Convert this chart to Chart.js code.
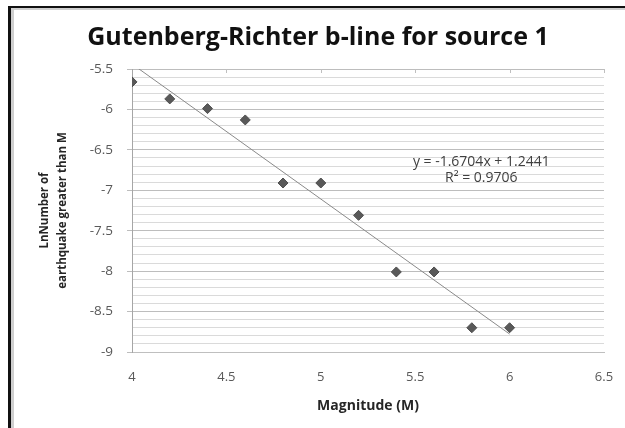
<!DOCTYPE html>
<html>
<head>
<meta charset="utf-8">
<script src="https://cdn.jsdelivr.net/npm/chart.js@4.4.1/dist/chart.umd.min.js"></script>
<style>
    html, body { margin: 0; padding: 0; background: #fff; }
    #frame {
        position: absolute; left: 8px; top: 6px; width: 640px; height: 440px;
        border-left: 3px solid #111; border-top: 2px solid #111;
        box-shadow: inset 3px 2px 0 #cfcfcf;
    }
    #wrap { position: absolute; left: 0; top: 0; width: 625px; height: 428px; }
</style>
</head>
<body>
<div id="frame"></div>
<div id="wrap"><canvas id="grChart" width="625" height="428"></canvas></div>
<script>
const magnitudes = [4, 4.2, 4.4, 4.6, 4.8, 5, 5.2, 5.4, 5.6, 5.8, 6];
const lnCounts = [-5.66, -5.87, -5.99, -6.13, -6.91, -6.91, -7.31, -8.01, -8.01, -8.70, -8.70];

const slope = -1.6704;
const intercept = 1.2441;
const rSquared = 0.9706;
const trendX = [4, 6];

const xTicks = [4, 4.5, 5, 5.5, 6, 6.5];
const yTicks = [-9, -8.5, -8, -7.5, -7, -6.5, -6, -5.5];
const yMinorStep = 0.1;

const isMajor = v => Math.abs(v * 2 - Math.round(v * 2)) < 1e-6;

// small tick marks along the top edge + trendline equation
const extras = {
    id: 'extras',
    afterDatasetsDraw(chart) {
        const ctx = chart.ctx;
        const x = chart.scales.x, y = chart.scales.y;
        const top = chart.chartArea.top;
        ctx.save();
        ctx.strokeStyle = '#bfbfbf';
        ctx.lineWidth = 1;
        xTicks.slice(1).forEach(v => {
            const px = Math.round(x.getPixelForValue(v)) + 0.5;
            ctx.beginPath();
            ctx.moveTo(px, top);
            ctx.lineTo(px, top + 4);
            ctx.stroke();
        });
        ctx.fillStyle = '#404040';
        ctx.font = '14px "Open Sans"';
        ctx.textAlign = 'center';
        ctx.textBaseline = 'middle';
        const ex = x.getPixelForValue(5.85);
        ctx.fillText('y = ' + slope + 'x + ' + intercept, ex, y.getPixelForValue(-6.65));
        ctx.fillText('R\u00b2 = ' + rSquared, ex, y.getPixelForValue(-6.85));
        ctx.restore();
    }
};

const ctx = document.getElementById('grChart').getContext('2d');
new Chart(ctx, {
    type: 'scatter',
    data: {
        datasets: [{
            label: 'LnN',
            data: magnitudes.map((m, i) => ({ x: m, y: lnCounts[i] })),
            pointStyle: 'rectRot',
            pointRadius: 5,
            backgroundColor: '#595959',
            borderColor: '#4d4d4d',
            borderWidth: 1
        }, {
            label: 'Trend',
            data: trendX.map(v => ({ x: v, y: slope * v + intercept })),
            showLine: true,
            pointRadius: 0,
            borderColor: '#8a8a8a',
            borderWidth: 1,
            fill: false
        }]
    },
    plugins: [extras],
    options: {
        responsive: false,
        animation: false,
        layout: { padding: { left: 16, right: 5, top: 0, bottom: 0 } },
        plugins: {
            legend: { display: false },
            tooltip: { enabled: false },
            title: {
                display: true,
                text: 'Gutenberg-Richter b-line for source 1',
                color: '#111',
                font: { family: '"Open Sans"', size: 25, weight: 'bold', lineHeight: 1.2 },
                padding: { top: 23, bottom: 16 }
            }
        },
        scales: {
            x: {
                type: 'linear',
                min: xTicks[0],
                max: xTicks[xTicks.length - 1],
                afterFit: s => { s.height = 76; },
                afterBuildTicks: s => { s.ticks = xTicks.map(v => ({ value: v })); },
                grid: { drawOnChartArea: false, drawTicks: true, tickLength: 6, tickColor: 'rgba(0,0,0,0)' },
                border: { color: '#bfbfbf' },
                ticks: {
                    color: '#595959',
                    font: { family: '"Open Sans"', size: 13 },
                    padding: 11,
                    maxRotation: 0,
                    callback: v => String(v)
                },
                title: {
                    display: true,
                    text: 'Magnitude (M)',
                    color: '#262626',
                    font: { family: '"Open Sans"', size: 14, weight: 'bold', lineHeight: 1.2 },
                    padding: { top: 0, bottom: 14 }
                }
            },
            y: {
                type: 'linear',
                min: yTicks[0],
                max: yTicks[yTicks.length - 1],
                afterFit: s => { s.width = 116; },
                ticks: {
                    stepSize: yMinorStep,
                    autoSkip: false,
                    color: '#595959',
                    font: { family: '"Open Sans"', size: 13.5 },
                    padding: 14,
                    callback: v => isMajor(v) ? String(Math.round(v * 2) / 2) : ''
                },
                grid: {
                    tickLength: 5,
                    color: c => isMajor(c.tick.value) ? '#bdbdbd' : '#dadada',
                    tickColor: c => isMajor(c.tick.value) ? '#bdbdbd' : 'rgba(0,0,0,0)'
                },
                border: { color: '#a6a6a6' },
                title: {
                    display: true,
                    text: ['LnNumber of', 'earthquake greater than M'],
                    color: '#262626',
                    font: { family: '"Open Sans"', size: 11.5, weight: 'bold', lineHeight: 1.55 },
                    padding: { top: 20, bottom: 0 }
                }
            },
            y2: {
                type: 'linear',
                position: 'right',
                min: yTicks[0],
                max: yTicks[yTicks.length - 1],
                afterFit: s => { s.width = 16; },
                ticks: { display: false },
                grid: { display: false },
                border: { display: false }
            }
        }
    }
});
</script>
</body>
</html>
